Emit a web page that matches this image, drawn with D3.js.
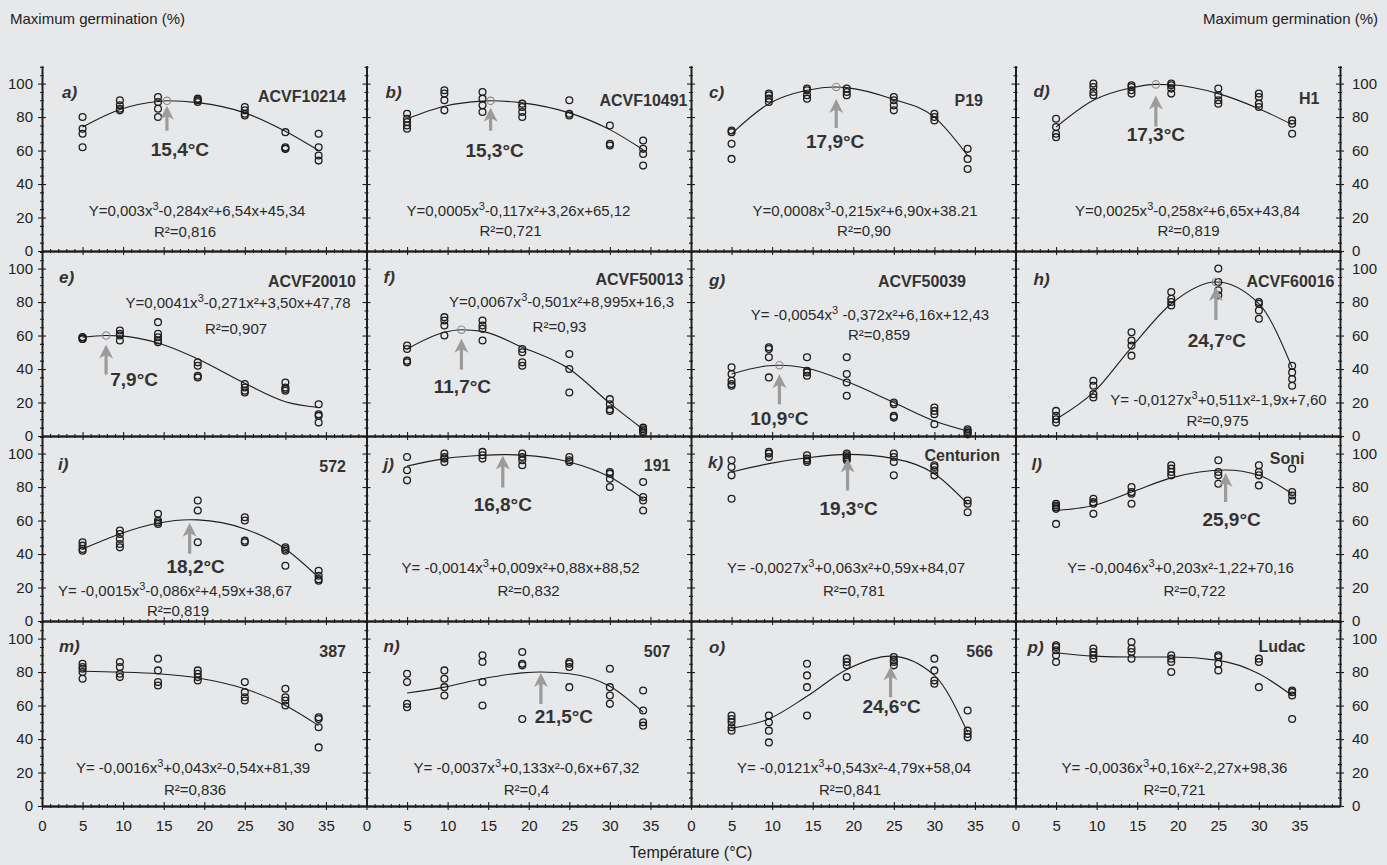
<!DOCTYPE html>
<html>
<head>
<meta charset="utf-8">
<script src="https://cdn.jsdelivr.net/npm/d3@7"></script>
<style>
  html, body { margin: 0; padding: 0; background: #e7e8ea; }
  svg { display: block; font-family: "Liberation Sans", Arial, sans-serif; }
</style>
</head>
<body>
<svg id="chart" width="1387" height="865"></svg>
<script>
// Incubation temperatures (°C) at which germination was scored
const temperatures = [5, 9.6, 14.3, 19.2, 25, 30, 34.1];

const panelLetters = ["a)", "b)", "c)", "d)", "e)", "f)", "g)", "h)", "i)", "j)", "k)", "l)", "m)", "n)", "o)", "p)"];
const cultivars = ["ACVF10214", "ACVF10491", "P19", "H1", "ACVF20010", "ACVF50013", "ACVF50039", "ACVF60016",
                   "572", "191", "Centurion", "Soni", "387", "507", "566", "Ludac"];
const equations = [
  "Y=0,003x^3-0,284x²+6,54x+45,34", "Y=0,0005x^3-0,117x²+3,26x+65,12",
  "Y=0,0008x^3-0,215x²+6,90x+38.21", "Y=0,0025x^3-0,258x²+6,65x+43,84",
  "Y=0,0041x^3-0,271x²+3,50x+47,78", "Y=0,0067x^3-0,501x²+8,995x+16,3",
  "Y= -0,0054x^3 -0,372x²+6,16x+12,43", "Y= -0,0127x^3+0,511x²-1,9x+7,60",
  "Y= -0,0015x^3-0,086x²+4,59x+38,67", "Y= -0,0014x^3+0,009x²+0,88x+88,52",
  "Y= -0,0027x^3+0,063x²+0,59x+84,07", "Y= -0,0046x^3+0,203x²-1,22+70,16",
  "Y= -0,0016x^3+0,043x²-0,54x+81,39", "Y= -0,0037x^3+0,133x²-0,6x+67,32",
  "Y= -0,0121x^3+0,543x²-4,79x+58,04", "Y= -0,0036x^3+0,16x²-2,27x+98,36"
];
const rSquared = ["0,816", "0,721", "0,90", "0,819", "0,907", "0,93", "0,859", "0,975",
                  "0,819", "0,832", "0,781", "0,722", "0,836", "0,4", "0,841", "0,721"];
// Optimum temperature of the fitted curve (null: no optimum marked)
const optimumTemps = [15.4, 15.3, 17.9, 17.3, 7.9, 11.7, 10.9, 24.7, 18.2, 16.8, 19.3, 25.9, null, 21.5, 24.6, null];

const xTicks = [0, 5, 10, 15, 20, 25, 30, 35];
const yTicks = [0, 20, 40, 60, 80, 100];

// Maximum germination (%) of each replicate, one inner list per temperature
const germA = [[80, 73, 70, 62], [90, 87, 85, 84], [92, 89, 85, 80], [91, 90, 89, 90], [86, 84, 82, 81], [71, 62, 61, 61], [70, 62, 57, 54]];
const germB = [[82, 79, 77, 75, 73], [96, 94, 90, 84], [95, 91, 87, 83], [88, 86, 83, 80], [90, 82, 81], [75, 64, 63], [66, 61, 58, 51]];
const germC = [[72, 71, 64, 55], [94, 93, 91, 89], [97, 96, 93, 91], [97, 95, 93], [92, 90, 87, 84], [82, 80, 78], [61, 55, 49]];
const germD = [[79, 74, 70, 68], [100, 98, 95, 93], [99, 98, 96, 94], [100, 99, 97, 94], [97, 93, 90, 88], [94, 92, 88, 86], [78, 76, 70]];
const germE = [[59, 58, 59, 58], [63, 61, 60, 57], [68, 61, 59, 57, 56], [44, 42, 36, 35], [31, 29, 27, 26], [32, 29, 27, 28], [19, 13, 12, 8]];
const germF = [[54, 52, 45, 44], [71, 69, 66, 60], [69, 66, 64, 57], [52, 50, 44, 42], [49, 40, 26], [22, 19, 16, 15], [5, 4, 3, 2]];
const germG = [[41, 37, 33, 31, 30], [53, 52, 47, 35], [47, 39, 38, 36], [47, 37, 32, 24], [20, 19, 12, 11], [17, 15, 13, 7], [4, 3, 2, 1]];
const germH = [[15, 12, 10, 8], [33, 30, 25, 23], [62, 57, 54, 48], [86, 82, 80, 78], [100, 92, 87, 84], [80, 79, 75, 70], [42, 38, 34, 30]];
const germI = [[47, 45, 43, 42], [54, 52, 49, 46, 44], [64, 60, 59, 58], [72, 66, 47], [62, 60, 48, 47], [44, 43, 42, 33], [30, 27, 25, 24]];
const germJ = [[98, 90, 84], [100, 98, 97, 95], [101, 99, 97], [100, 98, 96, 93], [98, 96, 95], [89, 88, 85, 80], [83, 74, 72, 66]];
const germK = [[96, 92, 87, 73], [101, 100, 98], [99, 97, 96, 95], [100, 99, 98, 97, 96], [100, 98, 95, 87], [93, 92, 90, 87], [72, 70, 65]];
const germL = [[70, 69, 68, 67, 58], [73, 71, 70, 64], [80, 77, 76, 70], [93, 91, 89, 87], [96, 89, 87, 82], [93, 89, 87, 81], [91, 77, 75, 72]];
const germM = [[85, 83, 82, 80, 76], [86, 83, 79, 77], [88, 81, 74, 72], [81, 79, 77, 75], [74, 68, 65, 63], [70, 65, 63, 60], [53, 52, 47, 35]];
const germN = [[79, 74, 61, 59], [81, 76, 71, 66], [90, 86, 74, 60], [92, 85, 84, 52], [86, 85, 83, 71], [82, 71, 66, 61], [69, 57, 50, 48]];
const germO = [[54, 52, 50, 47, 45], [54, 50, 45, 38], [85, 78, 71, 54], [88, 86, 84, 77], [89, 87, 86, 84], [88, 81, 75, 73], [57, 45, 43, 41]];
const germP = [[96, 95, 93, 90, 86], [94, 92, 90, 88], [98, 94, 92, 88], [90, 88, 86, 80], [90, 89, 85, 81], [88, 86, 71], [69, 68, 66, 52]];

// Fitted response curves: [temperature, germination]
const fitA = [[5, 74], [9.6, 84.5], [14.3, 89.3], [15.4, 89.7], [19.2, 88.6], [25, 82.5], [30, 71.5], [34.1, 60]];
const fitB = [[5, 79], [9.6, 86.5], [14.3, 89.5], [15.3, 89.7], [19.2, 88.5], [25, 82.5], [30, 72.5], [34.1, 60.5]];
const fitC = [[5, 70], [9.6, 88], [14.3, 96], [17.9, 98], [19.2, 97.6], [25, 90.5], [30, 80], [34.1, 57]];
const fitD = [[5, 74], [9.6, 90], [14.3, 97.5], [17.3, 99.5], [19.2, 99.3], [25, 94], [30, 85], [34.1, 75.5]];
const fitE = [[5, 59], [7.9, 60], [9.6, 59.8], [14.3, 55.5], [19.2, 46], [25, 31.5], [30, 20.5], [34.1, 17]];
const fitF = [[5, 52], [9.6, 62], [11.7, 63.5], [14.3, 62.5], [19.2, 53], [25, 40], [30, 19.5], [34.1, 4]];
const fitG = [[5, 37], [9.6, 42], [10.9, 42.3], [14.3, 40.5], [19.2, 32.5], [25, 20], [30, 9], [34.1, 3]];
const fitH = [[5, 10], [9.6, 26], [14.3, 53], [19.2, 79], [24.7, 92], [30, 79], [34.1, 41]];
const fitI = [[5, 43], [9.6, 52], [14.3, 58.5], [18.2, 60.5], [19.2, 60.4], [25, 55], [30, 43], [34.1, 26]];
const fitJ = [[5, 92.5], [9.6, 97], [14.3, 99], [16.8, 99.4], [19.2, 99.1], [25, 95], [30, 86], [34.1, 73]];
const fitK = [[5, 89], [9.6, 94], [14.3, 97.5], [19.3, 99.5], [25, 97], [30, 88], [34.1, 70]];
const fitL = [[5, 66], [9.6, 69], [14.3, 77], [19.2, 85.5], [25.9, 90.2], [30, 87], [34.1, 76]];
const fitM = [[5, 80.5], [9.6, 80], [14.3, 79], [19.2, 76.5], [25, 70], [30, 60], [34.1, 48]];
const fitN = [[5, 67.5], [9.6, 71], [14.3, 76], [19.2, 79.5], [21.5, 80], [25, 79], [30, 71.5], [34.1, 56]];
const fitO = [[5, 46.5], [9.6, 52], [14.3, 65.5], [19.2, 81.5], [24.6, 89.5], [30, 78], [34.1, 44]];
const fitP = [[5, 91.5], [9.6, 89.5], [14.3, 89], [19.2, 89], [25, 87], [30, 79], [34.1, 66]];

const germination = [germA, germB, germC, germD, germE, germF, germG, germH, germI, germJ, germK, germL, germM, germN, germO, germP];
const fits = [fitA, fitB, fitC, fitD, fitE, fitF, fitG, fitH, fitI, fitJ, fitK, fitL, fitM, fitN, fitO, fitP];

// Text placement inside each panel (px from the panel's top-left corner)
const panelLayout = [
  {lx: 20, ly: 32, nx: 304, ny: 36, ex: 155, ey: 150, rx: 143, ry: 171, gap: 5, len: 25, tdx: 13, ty: 90, mark: true},
  {lx: 19, ly: 32, nx: 321, ny: 40, ex: 152, ey: 150, rx: 144, ry: 170, gap: 7, len: 23, tdx: 4, ty: 91, mark: true},
  {lx: 18, ly: 32, nx: 292, ny: 40, ex: 174, ey: 150, rx: 173, ry: 170, gap: 12, len: 29, tdx: -1, ty: 82, mark: true},
  {lx: 18, ly: 31, nx: 304, ny: 38, ex: 172, ey: 150, rx: 173, ry: 170, gap: 11, len: 31, tdx: 0, ty: 75, mark: true},
  {lx: 17, ly: 32, nx: 314, ny: 36, ex: 196, ey: 57, rx: 194, ry: 83, gap: 9, len: 30, tdx: 28, ty: 135, mark: true},
  {lx: 17, ly: 32, nx: 317, ny: 34, ex: 195, ey: 56, rx: 193, ry: 81, gap: 9, len: 31, tdx: 1, ty: 142, mark: true},
  {lx: 18, ly: 35, nx: 275, ny: 36, ex: 179, ey: 69, rx: 188, ry: 89, gap: 9, len: 30, tdx: 0, ty: 174, mark: true},
  {lx: 18, ly: 34, nx: 319, ny: 36, ex: 203, ey: 154, rx: 202, ry: 175, gap: 5, len: 33, tdx: 1, ty: 96, mark: true},
  {lx: 16, ly: 34, nx: 304, ny: 36, ex: 133, ey: 160, rx: 136, ry: 180, gap: 3, len: 31, tdx: 6, ty: 137, mark: false},
  {lx: 17, ly: 34, nx: 304, ny: 35, ex: 154, ey: 137, rx: 162, ry: 160, gap: 1, len: 32, tdx: 0, ty: 75, mark: false},
  {lx: 17, ly: 32, nx: 309, ny: 25, ex: 155, ey: 137, rx: 163, ry: 160, gap: 4, len: 32, tdx: 1, ty: 79, mark: false},
  {lx: 16, ly: 34, nx: 289, ny: 28, ex: 165, ey: 137, rx: 179, ry: 160, gap: 3, len: 29, tdx: 6, ty: 90, mark: false},
  {lx: 17, ly: 31, nx: 304, ny: 36, ex: 151, ey: 152, rx: 153, ry: 174},
  {lx: 17, ly: 31, nx: 304, ny: 36, ex: 160, ey: 152, rx: 160, ry: 174, gap: 1, len: 31, tdx: 23, ty: 102, mark: false},
  {lx: 18, ly: 32, nx: 302, ny: 36, ex: 163, ey: 152, rx: 159, ry: 174, gap: 10, len: 31, tdx: 1, ty: 92, mark: false},
  {lx: 12, ly: 32, nx: 290, ny: 31, ex: 159, ey: 152, rx: 159, ry: 174}
];

const W = 1387, H = 865;
const gridLeft = 42, gridTop = 66, colW = 324.5, rowH = 185;
const ink = "#1e1e1e", arrowGray = "#9b9b9b";

const svg = d3.select("#chart");
svg.append("rect").attr("width", W).attr("height", H).attr("fill", "#e7e8ea");

const x = d3.scaleLinear().domain([0, 40]).range([0, colW]);
const y = d3.scaleLinear().domain([0, 110.5]).range([rowH, 0]);
const line = d3.line().x(d => x(d[0])).y(d => y(d[1])).curve(d3.curveMonotoneX);
const fmtTemp = t => d3.format(".1f")(t).replace(".", ",") + "°C";

function styleAxis(sel) {
  sel.select(".domain").attr("stroke", ink).attr("stroke-width", 1.3);
  sel.selectAll(".tick line").attr("stroke", ink).attr("stroke-width", 1.1);
  sel.selectAll(".tick text").attr("fill", "#222").style("font-size", "15px")
     .style("font-family", "'Liberation Sans', Arial, sans-serif");
}

const minorX = d3.range(0, 40).filter(v => v % 5 !== 0);
const minorY = d3.range(0, 111, 5).filter(v => v % 20 !== 0);

germination.forEach((obs, i) => {
  const col = i % 4, row = Math.floor(i / 4);
  const L = panelLayout[i];
  const g = svg.append("g")
    .attr("transform", `translate(${gridLeft + col * colW},${gridTop + row * rowH})`);

  // x axis: cross ticks (major every 5 °C, minor every 1 °C)
  const xb = g.append("g").attr("transform", `translate(0,${rowH})`);
  const xMajor = d3.axisBottom(x).tickValues(xTicks).tickSizeInner(4).tickSizeOuter(0).tickPadding(10)
    .tickFormat(row === 3 ? d3.format("d") : () => "");
  xb.append("g").call(xMajor).call(styleAxis);
  xb.append("g").call(d3.axisTop(x).tickValues(xTicks).tickSizeInner(4).tickSizeOuter(0).tickFormat(() => "")).call(styleAxis);
  xb.append("g").call(d3.axisBottom(x).tickValues(minorX).tickSizeInner(2).tickSizeOuter(0).tickFormat(() => "")).call(styleAxis);
  xb.append("g").call(d3.axisTop(x).tickValues(minorX).tickSizeInner(2).tickSizeOuter(0).tickFormat(() => "")).call(styleAxis);

  // y axis on the left of every panel, labels on the first column
  const yl = g.append("g");
  yl.append("g").call(d3.axisLeft(y).tickValues(yTicks).tickSizeInner(4).tickSizeOuter(0).tickPadding(5)
    .tickFormat(col === 0 ? d3.format("d") : () => "")).call(styleAxis);
  yl.append("g").call(d3.axisRight(y).tickValues(yTicks).tickSizeInner(4).tickSizeOuter(0).tickFormat(() => "")).call(styleAxis);
  yl.append("g").call(d3.axisLeft(y).tickValues(minorY).tickSizeInner(2).tickSizeOuter(0).tickFormat(() => "")).call(styleAxis);
  yl.append("g").call(d3.axisRight(y).tickValues(minorY).tickSizeInner(2).tickSizeOuter(0).tickFormat(() => "")).call(styleAxis);

  // right-hand axis closes the last column
  if (col === 3) {
    const yr = g.append("g").attr("transform", `translate(${colW},0)`);
    yr.append("g").call(d3.axisRight(y).tickValues(yTicks).tickSizeInner(4).tickSizeOuter(0).tickPadding(8)
      .tickFormat(d3.format("d"))).call(styleAxis);
    yr.append("g").call(d3.axisLeft(y).tickValues(yTicks).tickSizeInner(4).tickSizeOuter(0).tickFormat(() => "")).call(styleAxis);
    yr.append("g").call(d3.axisRight(y).tickValues(minorY).tickSizeInner(2).tickSizeOuter(0).tickFormat(() => "")).call(styleAxis);
    yr.append("g").call(d3.axisLeft(y).tickValues(minorY).tickSizeInner(2).tickSizeOuter(0).tickFormat(() => "")).call(styleAxis);
  }

  // fitted curve
  g.append("path").datum(fits[i]).attr("d", line)
    .attr("fill", "none").attr("stroke", ink).attr("stroke-width", 1.1);

  // replicate observations
  const pts = obs.flatMap((vals, k) => vals.map(v => [temperatures[k], v]));
  g.selectAll("circle.obs").data(pts).join("circle").attr("class", "obs")
    .attr("cx", d => x(d[0])).attr("cy", d => y(d[1])).attr("r", 3.4)
    .attr("fill", "none").attr("stroke", ink).attr("stroke-width", 1.3);

  // optimum: gray marker, arrow and temperature label
  const topt = optimumTemps[i];
  if (topt !== null) {
    const fitPt = fits[i].find(d => d[0] === topt);
    const cx = x(topt), cy = y(fitPt[1]);
    if (L.mark) {
      g.append("circle").attr("cx", cx).attr("cy", cy).attr("r", 3.7)
        .attr("fill", "none").attr("stroke", "#8c8c8c").attr("stroke-width", 1.2);
    }
    const tip = cy + L.gap, tail = tip + L.len, headH = 14, headW = 14;
    g.append("path")
      .attr("d", `M${cx},${tip} L${cx + headW / 2},${tip + headH} L${cx + 1.6},${tip + headH - 3}
                  L${cx + 1.6},${tail} L${cx - 1.6},${tail} L${cx - 1.6},${tip + headH - 3}
                  L${cx - headW / 2},${tip + headH} Z`)
      .attr("fill", arrowGray);
    g.append("text").attr("x", cx + L.tdx).attr("y", L.ty).attr("text-anchor", "middle")
      .attr("fill", "#333").style("font-size", "19px").style("font-weight", "bold")
      .text(fmtTemp(topt));
  }

  // panel letter and cultivar name
  g.append("text").attr("x", L.lx).attr("y", L.ly)
    .attr("fill", "#333").style("font-size", "17px").style("font-weight", "bold").style("font-style", "italic")
    .text(panelLetters[i]);
  g.append("text").attr("x", L.nx).attr("y", L.ny).attr("text-anchor", "end")
    .attr("fill", "#333").style("font-size", "16px").style("font-weight", "bold")
    .text(cultivars[i]);

  // regression equation with raised cubic exponent
  const parts = equations[i].split("^3");
  const eq = g.append("text").attr("x", L.ex).attr("y", L.ey).attr("text-anchor", "middle")
    .attr("fill", "#2a2a2a").style("font-size", "15px");
  eq.append("tspan").text(parts[0]);
  eq.append("tspan").attr("dy", -6).style("font-size", "11px").text("3");
  eq.append("tspan").attr("dy", 6).text(parts[1]);

  g.append("text").attr("x", L.rx).attr("y", L.ry).attr("text-anchor", "middle")
    .attr("fill", "#2a2a2a").style("font-size", "15px").text("R²=" + rSquared[i]);
});

// axis titles
svg.append("text").attr("x", 10).attr("y", 24).attr("fill", "#222").style("font-size", "15px")
  .text("Maximum germination (%)");
svg.append("text").attr("x", 1378).attr("y", 24).attr("text-anchor", "end").attr("fill", "#222")
  .style("font-size", "15px").text("Maximum germination (%)");
svg.append("text").attr("x", gridLeft + 2 * colW).attr("y", 858).attr("text-anchor", "middle")
  .attr("fill", "#222").style("font-size", "16px").text("Température (°C)");
</script>
</body>
</html>
